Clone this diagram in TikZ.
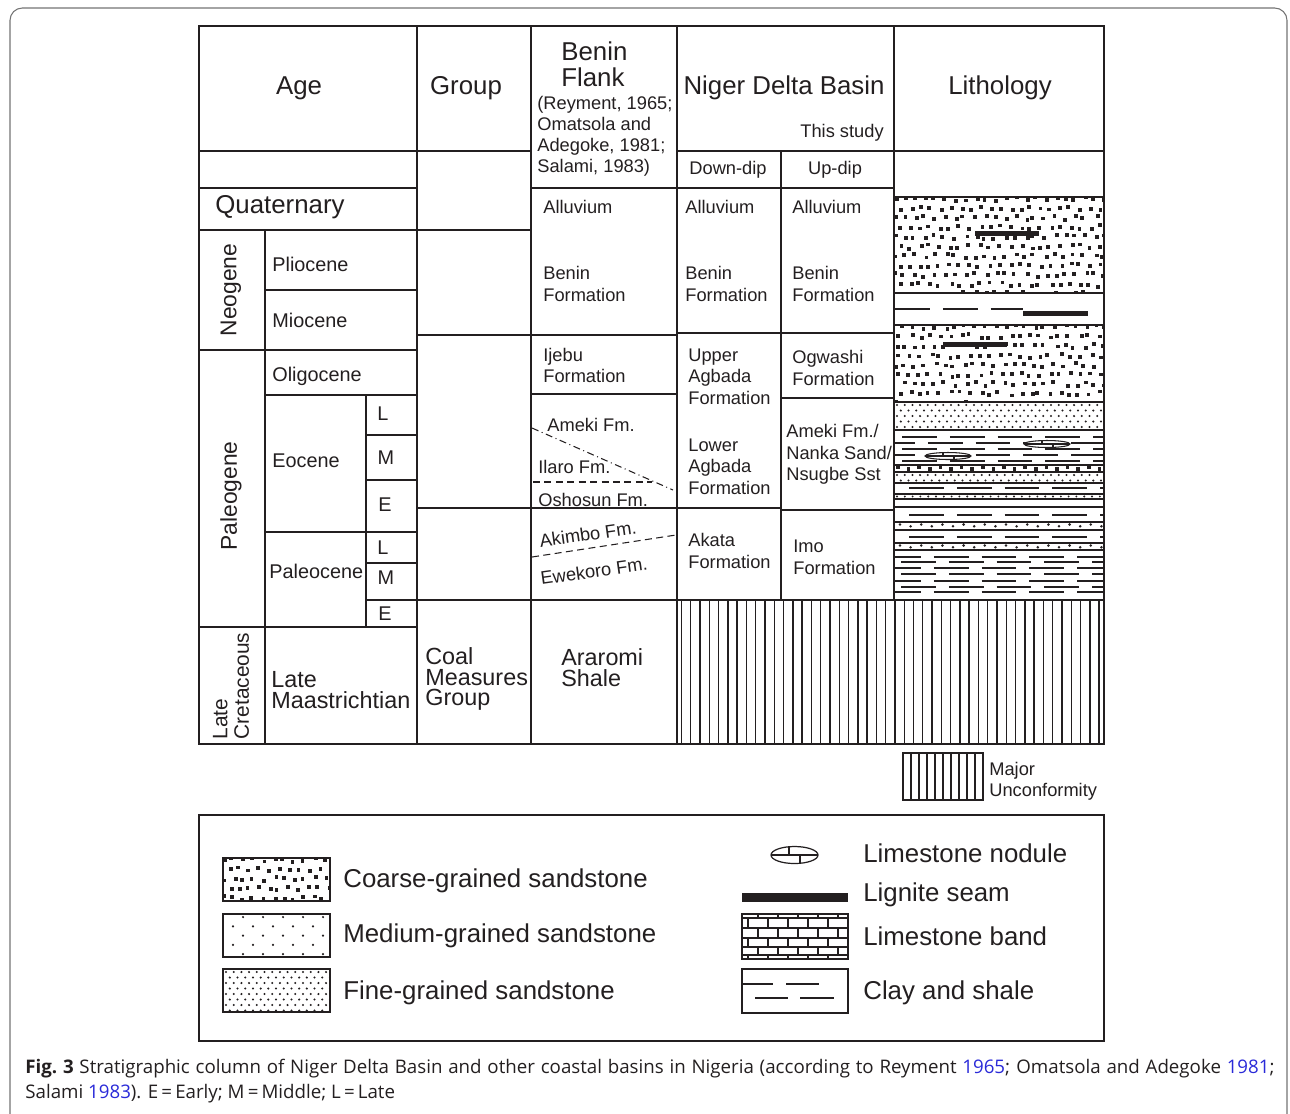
\documentclass[tikz,border=0pt]{standalone}
\usepackage{fontspec}
\setmainfont{Liberation Sans}
\newfontfamily\capfont{Open Sans}
\usetikzlibrary{positioning,calc}
\definecolor{ink}{HTML}{231F20}
\definecolor{refblue}{HTML}{2A2AD8}

% lithology fills, all coordinates in pixels
\newcommand{\coarsesand}[5]{%
  \begin{scope}
    \clip (#1,#2) rectangle (#3,#4);
    \pgfmathsetseed{#5}%
    \pgfmathtruncatemacro{\nrow}{(#4-#2)/9.5+1}%
    \pgfmathtruncatemacro{\ncol}{(#3-#1)/10+1}%
    \foreach \rr in {0,...,\nrow}{%
      \foreach \cc in {0,...,\ncol}{%
        \pgfmathsetmacro{\xx}{#1+1+\cc*10+mod(\rr,2)*5+3*rand}%
        \pgfmathsetmacro{\yy}{#2+2+\rr*9.5+2.2*rand}%
        \fill[ink] (\xx-1.9,\yy-1.9) rectangle (\xx+1.9,\yy+1.9);
      }}
  \end{scope}}
\newcommand{\finesand}[4]{%
  \begin{scope}
    \clip (#1,#2) rectangle (#3,#4);
    \pgfmathtruncatemacro{\nrow}{(#4-#2)/5.5}%
    \pgfmathtruncatemacro{\ncol}{(#3-#1)/7.7+1}%
    \foreach \rr in {0,...,\nrow}{%
      \foreach \cc in {0,...,\ncol}{%
        \fill[ink] ({#1+3+\cc*7.7+mod(\rr,2)*3.85},{#2+3+\rr*5.5}) circle (0.65pt);
      }}
  \end{scope}}
\newcommand{\clayrow}[4]{%
  \begin{scope}
    \clip (#1,#3-2) rectangle (#2,#3+2);
    \draw[ink, line width=0.7pt, dash pattern=on 19.8pt off 7.4pt] (#4,#3) -- (#2,#3);
  \end{scope}}
\newcommand{\nodule}[4]{%
  \filldraw[fill=white, draw=ink, line width=0.6pt] (#1,#2) ellipse [x radius=#3, y radius=#4];
  \draw[ink, line width=0.6pt] (#1-#3,#2) -- (#1+#3,#2) (#1-5,#2) -- (#1-5,#2-#4) (#1+6,#2) -- (#1+6,#2+#4);}

\begin{document}
\begin{tikzpicture}[x=0.02cm, y=-0.02cm,
tabline/.style={draw=ink, line width=1pt},
boxline/.style={draw=ink, line width=0.7pt},
headtxt/.style={font=\fontsize{14.7pt}{14.7pt}\selectfont, text=ink, inner sep=0pt, align=left},
agetxt/.style={font=\fontsize{13.3pt}{11.9pt}\selectfont, text=ink, inner sep=0pt, align=left, anchor=west},
epochtxt/.style={font=\fontsize{11.3pt}{13pt}\selectfont, text=ink, inner sep=0pt, anchor=west},
fmtxt/.style={font=\fontsize{10.4pt}{12.2pt}\selectfont, text=ink, inner sep=0pt, align=left, anchor=west},
legtxt/.style={font=\fontsize{14.7pt}{16pt}\selectfont, text=ink, inner sep=0pt, anchor=west},
]
\useasboundingbox (0,0) rectangle (1290,1113);
\draw[black!55, line width=0.6pt, rounded corners=7pt] (10,8) rectangle (1287,1140);

%Lithology fills
\coarsesand{894}{197}{1104}{293}{11}
\fill[ink] (975,231) rectangle (1039,236);
\clayrow{894}{1023}{309}{895}
\fill[ink] (1023,311) rectangle (1088,316);
\coarsesand{894}{325}{1104}{402}{23}
\fill[ink] (943,342) rectangle (1007,347);
\finesand{894}{402}{1104}{430}
\clayrow{894}{1104}{437}{902}
\clayrow{894}{1104}{443}{880}
\clayrow{894}{1104}{449}{902}
\clayrow{894}{1104}{455}{880}
\clayrow{894}{1104}{461}{902}
\nodule{1047}{444}{23}{3.5}
\nodule{948}{456}{23}{3.5}
\foreach \i in {0,...,19}
  \fill[ink] ({898+\i*10.6-1.8},{467.5+mod(\i,2)*1.5-1.8}) rectangle ++(3.6,3.6);
\finesand{894}{472}{1104}{483}
\clayrow{894}{1104}{488}{909}
\foreach \i in {0,...,26}
  \fill[ink] ({897+\i*7.8},496.5) circle (0.6pt);
\clayrow{894}{1104}{515}{909}
\foreach \i in {0,...,19}
  \fill[ink] ({900+\i*10.6},{524.5+mod(\i,2)*1.8}) circle (0.8pt);
\clayrow{894}{1104}{537}{909}
\foreach \i in {0,...,19}
  \fill[ink] ({900+\i*10.6},{545.5+mod(\i,2)*1.8}) circle (0.8pt);
\foreach \yy/\xs in {557/886,562/901,568/886,574/901,581/886,587/901,592/886}
  \clayrow{894}{1104}{\yy}{\xs}
\foreach \i in {0,...,45}
  \draw[ink, line width=0.8pt] ({681.5+\i*9.28},600) -- ++(0,144);

%Lines
\draw[tabline] (199,26) rectangle (1104,744);
\draw[tabline] (265,230) -- (265,744) (366,395) -- (366,627) (417,26) -- (417,744)
  (531,26) -- (531,744) (677,26) -- (677,744) (781,151) -- (781,600) (894,26) -- (894,600);
\draw[tabline] (199,151) -- (531,151) (199,188) -- (417,188) (199,230) -- (531,230)
  (265,290) -- (417,290) (199,350) -- (417,350) (265,395) -- (417,395)
  (366,435) -- (417,435) (366,480) -- (417,480) (265,532) -- (417,532)
  (366,563) -- (417,563) (366,600) -- (1104,600) (199,627) -- (417,627);
\draw[tabline] (417,335) -- (677,335) (417,508) -- (781,508) (531,188) -- (894,188)
  (531,394) -- (677,394) (677,151) -- (1104,151) (677,333) -- (894,333)
  (781,398) -- (894,398) (781,510) -- (894,510) (894,197) -- (1104,197);
\foreach \yy in {293,325,402,430,472,483,494,499,507,522,530,543,550}
  \draw[ink, line width=0.8pt] (894,\yy) -- (1104,\yy);
\draw[ink, line width=1.3pt] (894,465) -- (1104,465);
\draw[ink, line width=0.6pt, dash pattern=on 4pt off 2pt on 0.6pt off 2pt] (532,428) -- (673,490);
\draw[ink, line width=0.6pt, dash pattern=on 4pt off 2.5pt] (533,482) -- (652,482);
\draw[ink, line width=0.6pt, dash pattern=on 4pt off 2.5pt] (532,557) -- (676,535);

%Text
\node[headtxt] (age) at (299,88) {Age};
\node[headtxt] (group) at (466,88) {Group};
\node[headtxt, anchor=west] (flank) at (561,64) {Benin\\Flank};
\node[fmtxt, font=\fontsize{10.4pt}{11.9pt}\selectfont] (flankref) at (537,136.5)
  {(Reyment, 1965;\\Omatsola and\\Adegoke, 1981;\\Salami, 1983)};
\node[headtxt] (niger) at (784,88) {Niger Delta Basin};
\node[fmtxt, anchor=east] (study) at (884,133) {This study};
\node[headtxt] (litho) at (1000,88) {Lithology};
\node[fmtxt, anchor=center] (downdip) at (728,170) {Down-dip};
\node[fmtxt, anchor=center] (updip) at (835,170) {Up-dip};

\node[headtxt, anchor=west] (quat) at (215,207) {Quaternary};
\node[agetxt, anchor=center, rotate=90, font=\fontsize{13pt}{13pt}\selectfont] (neogene) at (231,290) {Neogene};
\node[agetxt, anchor=center, rotate=90, font=\fontsize{13pt}{13pt}\selectfont] (paleogene) at (231,496) {Paleogene};
\node[agetxt, anchor=center, rotate=90, font=\fontsize{11.9pt}{12.3pt}\selectfont] (latecret) at (231,686) {Late\\Cretaceous};
\node[epochtxt] (plio) at (272,264) {Pliocene};
\node[epochtxt] (mio) at (272,320) {Miocene};
\node[epochtxt] (oligo) at (272,376) {Oligocene};
\node[epochtxt] (eoc) at (272,461) {Eocene};
\node[epochtxt] (paleoc) at (269,571) {Paleocene};
\node[epochtxt, anchor=center] (eocL) at (383,414) {L};
\node[epochtxt, anchor=center] (eocM) at (386,458) {M};
\node[epochtxt, anchor=center] (eocE) at (385,505) {E};
\node[epochtxt, anchor=center] (palL) at (383,548) {L};
\node[epochtxt, anchor=center] (palM) at (386,578) {M};
\node[epochtxt, anchor=center] (palE) at (385,614) {E};
\node[agetxt] (maas) at (271,690) {Late\\Maastrichtian};
\node[agetxt] (coalgrp) at (425,679) {Coal\\Measures\\Group};
\node[agetxt] (araromi) at (561,668) {Araromi\\Shale};

\node[fmtxt] (bfAll) at (543,207) {Alluvium};
\node[fmtxt] (bfBenin) at (543,284) {Benin\\Formation};
\node[fmtxt] (ijebu) at (543,365.5) {Ijebu\\Formation};
\node[fmtxt] (ameki) at (547,425) {Ameki Fm.};
\node[fmtxt] (ilaro) at (538,467) {Ilaro Fm.};
\node[fmtxt] (oshosun) at (538,500) {Oshosun Fm.};
\node[fmtxt, anchor=center, rotate=8] (akimbo) at (588,534) {Akimbo Fm.};
\node[fmtxt, anchor=center, rotate=8] (ewekoro) at (594,571) {Ewekoro Fm.};
\node[fmtxt] (ddAll) at (685,207) {Alluvium};
\node[fmtxt] (ddBenin) at (685,284) {Benin\\Formation};
\node[fmtxt] (upAgb) at (688,376.5) {Upper\\Agbada\\Formation};
\node[fmtxt] (loAgb) at (688,466.5) {Lower\\Agbada\\Formation};
\node[fmtxt] (akata) at (688,551) {Akata\\Formation};
\node[fmtxt] (udAll) at (792,207) {Alluvium};
\node[fmtxt] (udBenin) at (792,284) {Benin\\Formation};
\node[fmtxt] (ogwashi) at (792,368) {Ogwashi\\Formation};
\node[fmtxt] (amekiUd) at (786,454.5) {Ameki Fm./\\Nanka Sand/\\Nsugbe Sst};
\node[fmtxt] (imo) at (793,557.5) {Imo\\Formation};

%Unconformity key
\draw[boxline] (903,753) rectangle (983,800);
\foreach \i in {1,...,9}
  \draw[ink, line width=0.8pt] ({903+\i*8},753) -- ++(0,47);
\node[fmtxt, font=\fontsize{10.4pt}{11.9pt}\selectfont] (unconf) at (989,781) {Major\\Unconformity};

%Legend
\draw[tabline] (199,815) rectangle (1104,1041);
\coarsesand{223}{858}{330}{901}{5}
\draw[boxline] (223,858) rectangle (330,901);
\foreach \rr in {0,...,4}
  \foreach \cc in {0,...,4}
    \fill[ink] ({233+\cc*20+mod(\rr+1,2)*10},{917+\rr*9.3}) circle (0.7pt);
\draw[boxline] (223,914) rectangle (330,957);
\finesand{223}{969}{330}{1012}
\draw[boxline] (223,969) rectangle (330,1012);
\node[legtxt] (legCoarse) at (343,881) {Coarse-grained sandstone};
\node[legtxt] (legMedium) at (343,936) {Medium-grained sandstone};
\node[legtxt] (legFine) at (343,993) {Fine-grained sandstone};

\filldraw[fill=white, draw=ink, line width=0.7pt] (794.5,855) ellipse [x radius=23.5, y radius=8.5];
\draw[ink, line width=0.7pt] (771,855) -- (818,855) (789,855) -- (789,846.7) (800,855) -- (800,863.3);
\fill[ink] (742,893) rectangle (848,902);
\draw[boxline] (742,914) rectangle (848,959);
\draw[ink, line width=0.6pt] (742,918) -- (848,918) (742,928) -- (848,928) (742,938) -- (848,938)
  (742,947) -- (848,947) (742,955) -- (848,955);
\foreach \ya/\yb/\xs in {914/918/758,918/928/748,928/938/758,938/947/748,947/955/758,955/959/748}
  \foreach \i in {0,...,4}
    \draw[ink, line width=0.6pt] ({\xs+\i*20},\ya) -- ({\xs+\i*20},\yb);
\draw[boxline] (742,969) rectangle (848,1013);
\draw[ink, line width=0.6pt] (742,984) -- (773,984) (786,984) -- (819,984)
  (755,998) -- (788,998) (800,998) -- (834,998);
\node[legtxt] (legNodule) at (863,853) {Limestone nodule};
\node[legtxt] (legLignite) at (863,895) {Lignite seam};
\node[legtxt] (legBand) at (863,936) {Limestone band};
\node[legtxt] (legClay) at (863,993) {Clay and shale};

%Caption
\node[anchor=west, inner sep=0pt, text=ink, font=\capfont\fontsize{10.65pt}{12pt}\selectfont] (cap1) at (25,1069)
  {\makebox[711pt][s]{\textbf{Fig.~3} Stratigraphic column of Niger Delta Basin and other coastal basins in Nigeria (according to Reyment \textcolor{refblue}{1965}; Omatsola and Adegoke \textcolor{refblue}{1981};}};
\node[anchor=west, inner sep=0pt, text=ink, font=\capfont\fontsize{10.65pt}{12pt}\selectfont] (cap2) at (25,1094)
  {Salami \textcolor{refblue}{1983}). E\,=\,Early; M\,=\,Middle; L\,=\,Late};
\end{tikzpicture}
\end{document}
